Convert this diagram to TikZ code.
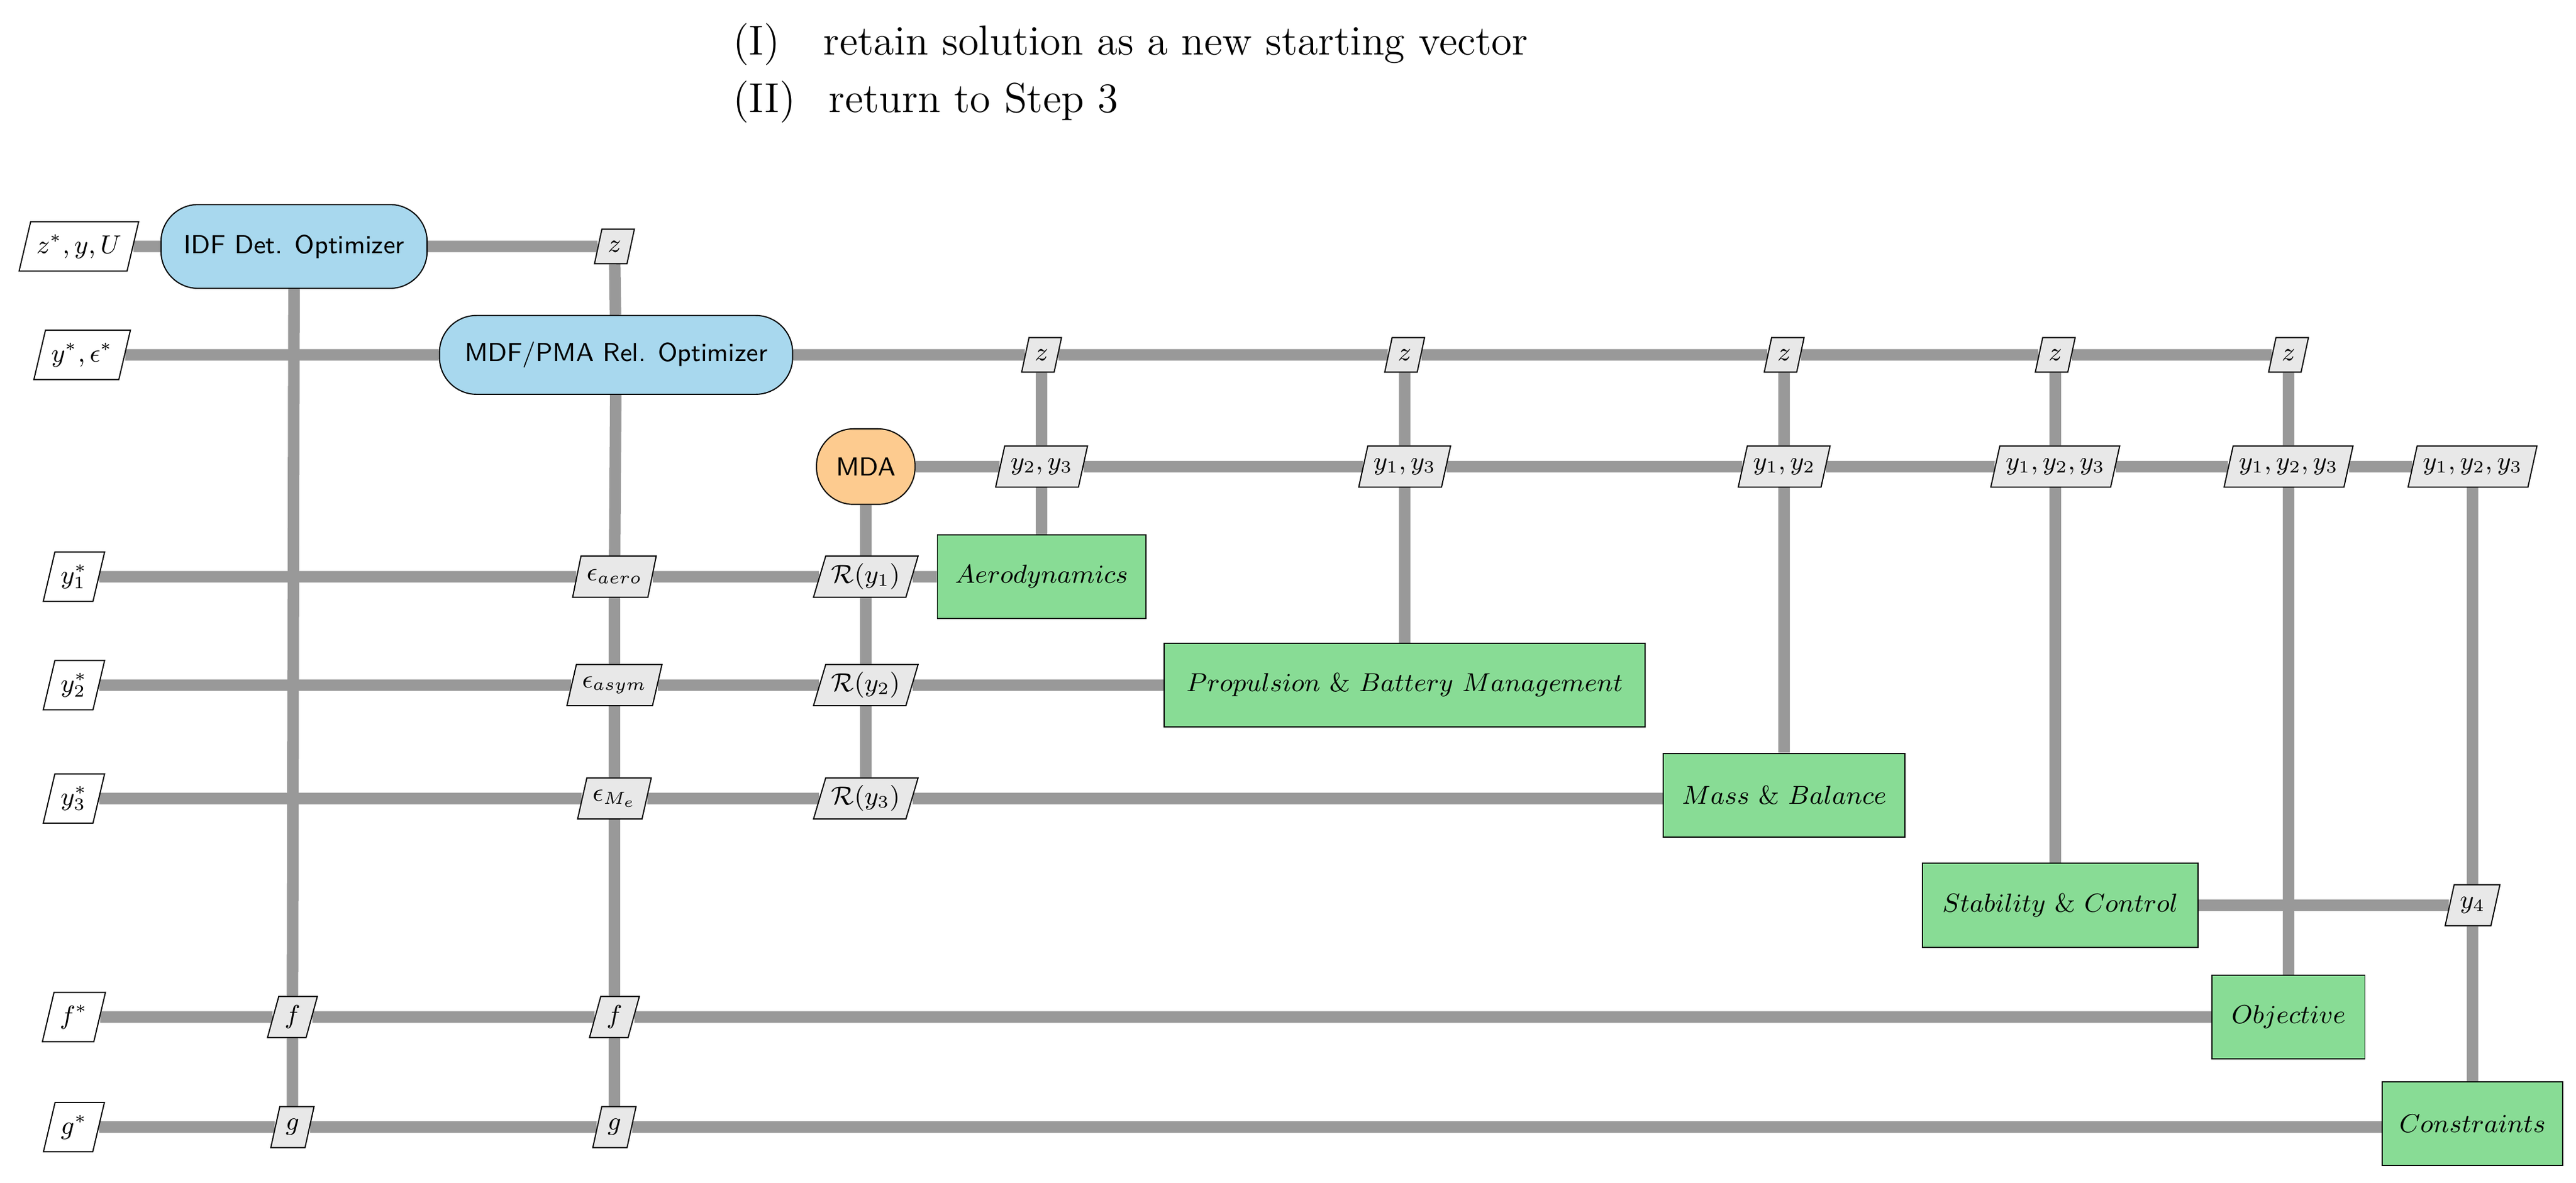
\documentclass[tikz,border=0pt]{standalone}
\usepackage{amsmath}
\usetikzlibrary{shapes.geometric,backgrounds}
\definecolor{lg}{HTML}{999999}
\definecolor{optc}{HTML}{A8D8EE}
\definecolor{mdac}{HTML}{FDCB8F}
\definecolor{discc}{HTML}{88DC95}
\definecolor{datac}{HTML}{E8E8E8}
\tikzset{
  conn/.style={draw=lg,line width=4pt},
  pg/.style={trapezium,trapezium left angle=72,trapezium right angle=108,trapezium stretches body,draw,line width=0.4pt,inner sep=2pt,minimum height=0.42cm,font=\small},
  data/.style={pg,fill=datac},
  inp/.style={pg,fill=white,minimum height=0.6cm},
  opt/.style={draw,fill=optc,rounded corners=0.45cm,font=\sffamily\small},
  mda/.style={draw,fill=mdac,rounded corners=0.45cm,font=\sffamily\small,minimum width=1.2cm,minimum height=0.92cm},
  disc/.style={draw,fill=discc,minimum height=1.02cm,font=\small},
}
\begin{document}
\begin{tikzpicture}[x=0.02cm,y=-0.02cm]
\useasboundingbox (0,0) rectangle (1568,720);
\node[anchor=west,font=\fontsize{14.5}{17}\selectfont] (t1) at (440,27) {(I)\hspace{1.05em}retain solution as a new starting vector};
\node[anchor=west,font=\fontsize{14.5}{17}\selectfont] (t2) at (440,62) {(II)\hspace{0.8em}return to Step 3};
% optimizers
\node[opt,minimum width=3.24cm,minimum height=1.02cm] (idf) at (179,150) {IDF Det. Optimizer};
\node[opt,minimum width=4.3cm,minimum height=0.96cm] (mdf) at (375,216) {MDF/PMA Rel. Optimizer};
\node[mda] (mda) at (527,284) {MDA};
% inputs
\node[inp,minimum width=1.3cm] (in0) at (48,150) {$z^*,y,U$};
\node[inp,minimum width=1.1cm] (in1) at (50,216) {$y^*,\epsilon^*$};
\node[inp,minimum width=0.7cm] (in2) at (45,351) {$y_1^*$};
\node[inp,minimum width=0.7cm] (in3) at (45,417) {$y_2^*$};
\node[inp,minimum width=0.7cm] (in4) at (45,486) {$y_3^*$};
\node[inp,minimum width=0.7cm] (in5) at (45,619) {$f^*$};
\node[inp,minimum width=0.7cm] (in6) at (45,686) {$g^*$};
% data
\node[data] (zA) at (374,150) {$z$};
\node[data] (z1) at (634,216) {$z$};
\node[data] (z2) at (855,216) {$z$};
\node[data] (z3) at (1086,216) {$z$};
\node[data] (z4) at (1251,216) {$z$};
\node[data] (z5) at (1393,216) {$z$};
\node[data,minimum height=0.5cm] (c1) at (634,284) {$y_2,y_3$};
\node[data,minimum height=0.5cm] (c2) at (855,284) {$y_1,y_3$};
\node[data,minimum height=0.5cm] (c3) at (1086,284) {$y_1,y_2$};
\node[data,minimum height=0.5cm] (c4) at (1251,284) {$y_1,y_2,y_3$};
\node[data,minimum height=0.5cm] (c5) at (1393,284) {$y_1,y_2,y_3$};
\node[data,minimum height=0.5cm] (c6) at (1505,284) {$y_1,y_2,y_3$};
\node[data,minimum height=0.5cm] (ea) at (374,351) {$\epsilon_{aero}$};
\node[data,minimum height=0.5cm] (es) at (374,417) {$\epsilon_{asym}$};
\node[data,minimum height=0.5cm] (em) at (374,486) {$\epsilon_{M_e}$};
\node[data,minimum height=0.5cm] (r1) at (527,351) {$\mathcal{R}(y_1)$};
\node[data,minimum height=0.5cm] (r2) at (527,417) {$\mathcal{R}(y_2)$};
\node[data,minimum height=0.5cm] (r3) at (527,486) {$\mathcal{R}(y_3)$};
\node[data,minimum height=0.5cm] (y4) at (1505,551) {$y_4$};
\node[data,minimum height=0.5cm] (f1) at (178,619) {$f$};
\node[data,minimum height=0.5cm] (f2) at (374,619) {$f$};
\node[data,minimum height=0.5cm] (g1) at (178,686) {$g$};
\node[data,minimum height=0.5cm] (g2) at (374,686) {$g$};
% disciplines
\node[disc,minimum width=2.54cm] (aero) at (634,351) {$Aerodynamics$};
\node[disc,minimum width=5.86cm] (prop) at (855,417) {$Propulsion\ \&\ Battery\ Management$};
\node[disc,minimum width=2.94cm] (mass) at (1086,484) {$Mass\ \&\ Balance$};
\node[disc,minimum width=3.36cm] (sc) at (1254,551) {$Stability\ \&\ Control$};
\node[disc,minimum width=1.86cm] (obj) at (1393,619) {$Objective$};
\node[disc,minimum width=2.2cm] (con) at (1505,684) {$Constraints$};
\begin{scope}[on background layer]
\draw[conn] (in0) -- (idf) -- (zA) -- (mdf);
\draw[conn] (idf) -- (f1) -- (g1);
\draw[conn] (in1) -- (mdf) -- (z1) -- (z2) -- (z3) -- (z4) -- (z5);
\draw[conn] (mdf) -- (ea) -- (es) -- (em) -- (f2) -- (g2);
\draw[conn] (mda) -- (c1) -- (c2) -- (c3) -- (c4) -- (c5) -- (c6);
\draw[conn] (mda) -- (r1) -- (r2) -- (r3);
\draw[conn] (z1) -- (c1) -- (aero);
\draw[conn] (z2) -- (c2) -- (prop.north -| c2);
\draw[conn] (z3) -- (c3) -- (mass);
\draw[conn] (z4) -- (c4) -- (sc.north -| c4);
\draw[conn] (z5) -- (c5) -- (obj);
\draw[conn] (c6) -- (y4) -- (con);
\draw[conn] (in2) -- (ea) -- (r1) -- (aero);
\draw[conn] (in3) -- (es) -- (r2) -- (prop);
\draw[conn] (in4) -- (em) -- (r3) -- (mass.west |- r3);
\draw[conn] (sc) -- (y4);
\draw[conn] (in5) -- (f1) -- (f2) -- (obj);
\draw[conn] (in6) -- (g1) -- (g2) -- (con.west |- g2);
\end{scope}
\end{tikzpicture}
\end{document}
